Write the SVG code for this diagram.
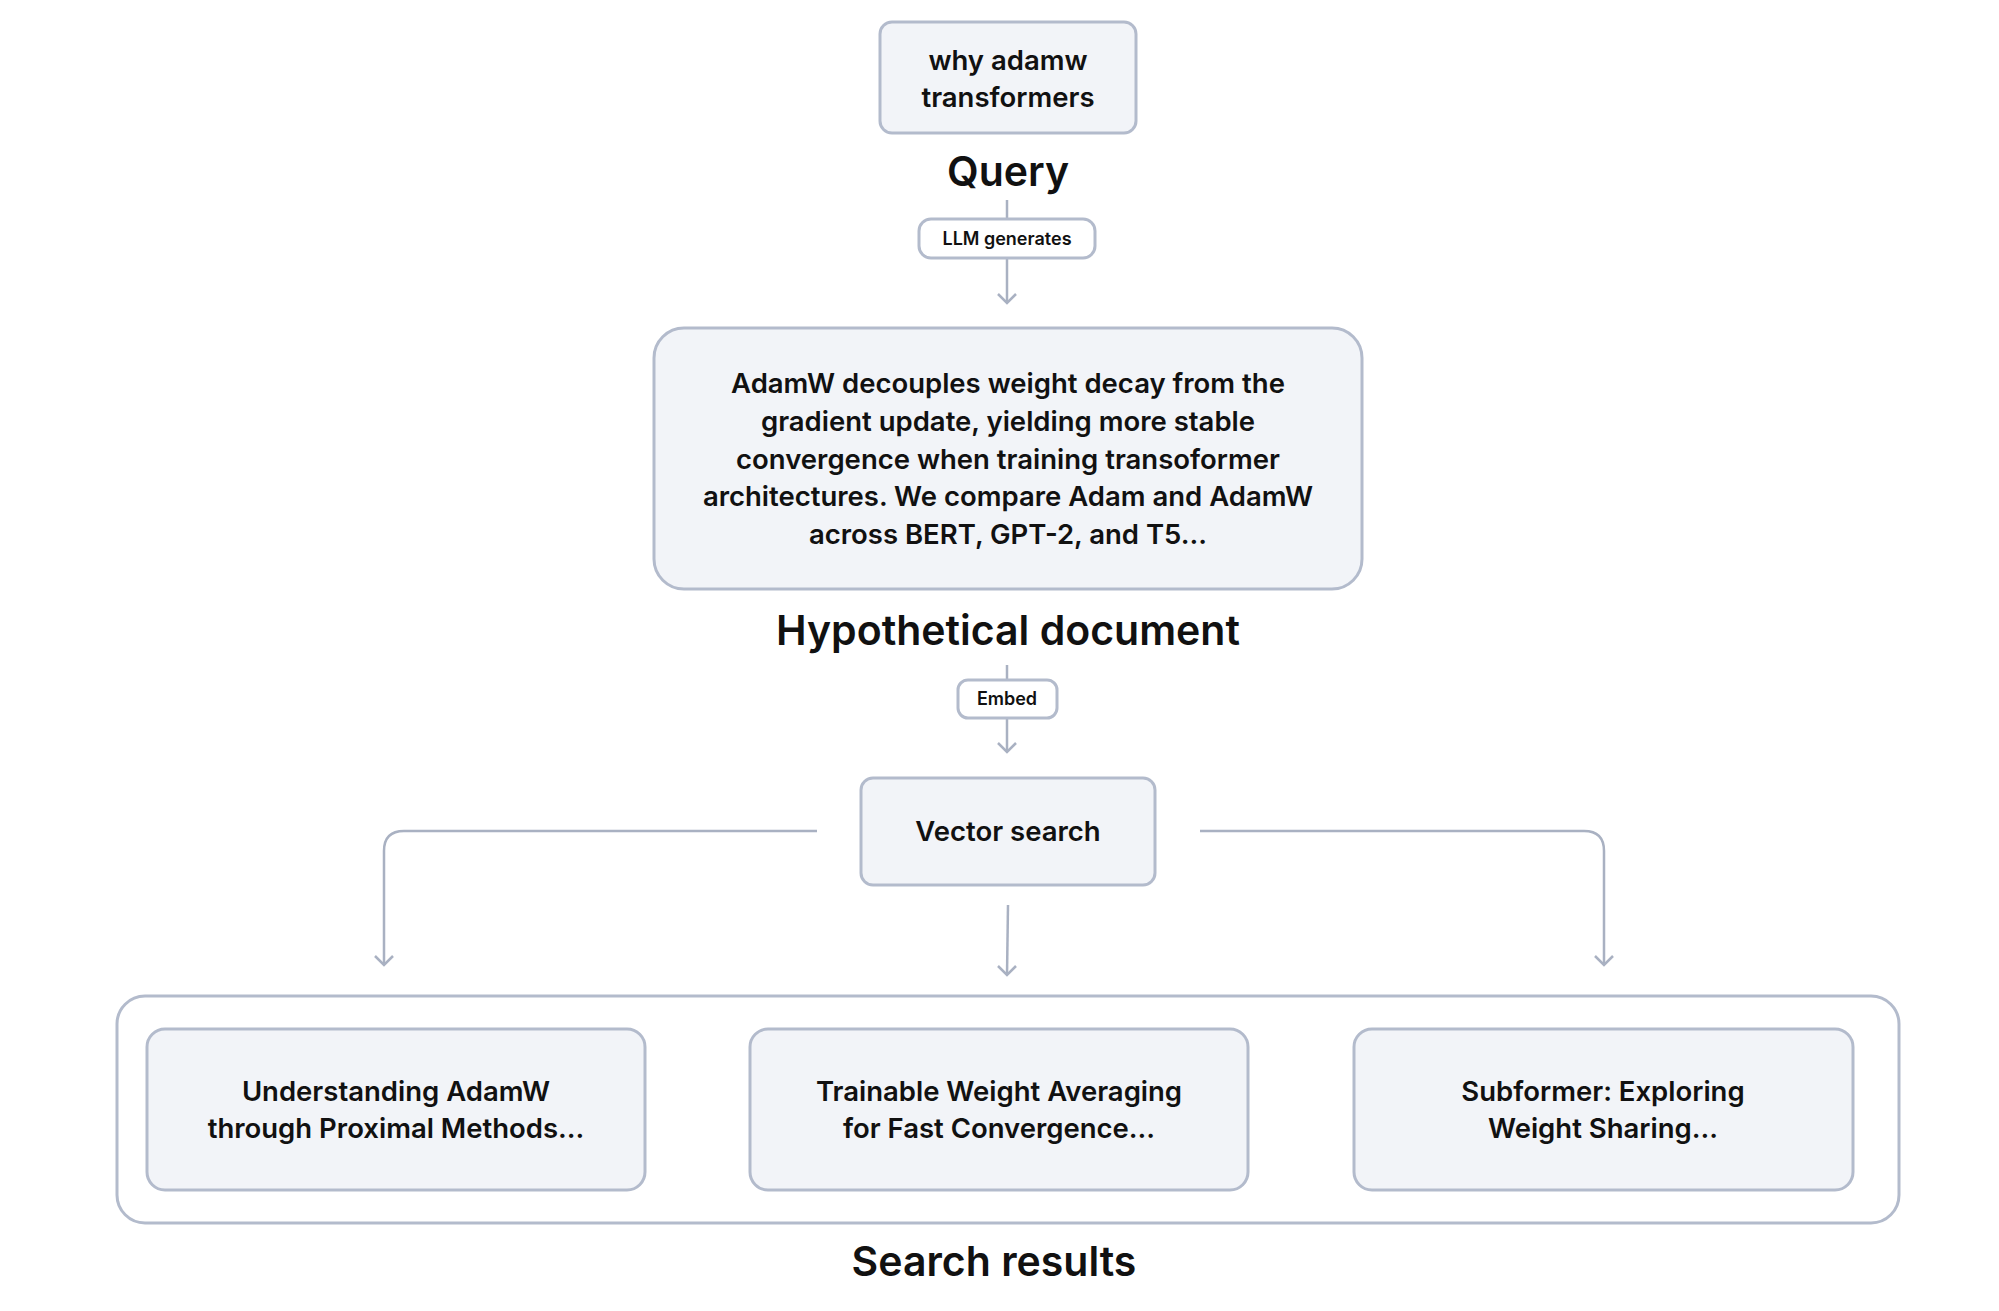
<svg xmlns="http://www.w3.org/2000/svg" width="1999" height="1311" viewBox="0 0 1999 1311">
<style>
.box{fill:#f2f4f8;stroke:#b3bbcc;stroke-width:3}
.pill{fill:#fff;stroke:#b3bbcc;stroke-width:3}
.t{font-family:Inter,"Liberation Sans",sans-serif;font-weight:600;fill:#111;text-anchor:middle}
.n{font-size:27.5px}
.h{font-size:41px;font-weight:600}
.s{font-size:18px}
.c{fill:none;stroke:#a9b1c2;stroke-width:2.5}
</style>
<defs>
<marker id="b" viewBox="0 0 20 20" refX="10" refY="18" markerWidth="20" markerHeight="20" markerUnits="userSpaceOnUse" orient="0"><path d="M1 9 L10 18 L19 9" fill="none" stroke="#a9b1c2" stroke-width="2.5"/></marker></defs>
<rect width="1999" height="1311" fill="#fff"/>
<g id="connectors">
<line class="c" x1="1007" y1="200" x2="1007" y2="219"/>
<line class="c" x1="1007" y1="258" x2="1007" y2="303" marker-end="url(#b)"/>
<line class="c" x1="1007" y1="665" x2="1007" y2="680"/>
<line class="c" x1="1007" y1="718" x2="1007" y2="752" marker-end="url(#b)"/>
<path class="c" d="M817 831 H404 Q384 831 384 851 V965" marker-end="url(#b)"/>
<path class="c" d="M1200 831 H1584 Q1604 831 1604 851 V965" marker-end="url(#b)"/>
<line class="c" x1="1008" y1="905" x2="1007" y2="975" marker-end="url(#b)"/>
</g>
<g id="query"><rect class="box" x="880" y="22" width="256" height="111" rx="12"/>
<text class="t n" x="1008" y="70">why adamw</text><text class="t n" x="1008" y="107">transformers</text>
<text class="t h" x="1008" y="186">Query</text></g>
<g id="llm"><rect class="pill" x="919" y="219" width="176" height="39" rx="12"/><text class="t s" x="1007" y="245">LLM generates</text></g>
<g id="hypo"><rect class="box" x="654" y="328" width="708" height="261" rx="30"/>
<text class="t n" x="1008" y="393">AdamW decouples weight decay from the</text>
<text class="t n" x="1008" y="431">gradient update, yielding more stable</text>
<text class="t n" x="1008" y="469">convergence when training transoformer</text>
<text class="t n" x="1008" y="506">architectures. We compare Adam and AdamW</text>
<text class="t n" x="1008" y="544">across BERT, GPT-2, and T5...</text>
<text class="t h" x="1008" y="645">Hypothetical document</text></g>
<g id="embed"><rect class="pill" x="958" y="680" width="99" height="38" rx="10"/><text class="t s" x="1007" y="705">Embed</text></g>
<g id="vector"><rect class="box" x="861" y="778" width="294" height="107" rx="12"/><text class="t n" x="1008" y="841">Vector search</text></g>
<g id="results"><rect x="117" y="996" width="1782" height="227" rx="28" fill="#fff" stroke="#b3bbcc" stroke-width="3"/>
<text class="t h" x="994" y="1276">Search results</text></g>
<g id="r1"><rect class="box" x="147" y="1029" width="498" height="161" rx="18"/><text class="t n" x="396" y="1101">Understanding AdamW</text><text class="t n" x="396" y="1138">through Proximal Methods...</text></g>
<g id="r2"><rect class="box" x="750" y="1029" width="498" height="161" rx="18"/><text class="t n" x="999" y="1101">Trainable Weight Averaging</text><text class="t n" x="999" y="1138">for Fast Convergence...</text></g>
<g id="r3"><rect class="box" x="1354" y="1029" width="499" height="161" rx="18"/><text class="t n" x="1603" y="1101">Subformer: Exploring</text><text class="t n" x="1603" y="1138">Weight Sharing...</text></g>
</svg>
